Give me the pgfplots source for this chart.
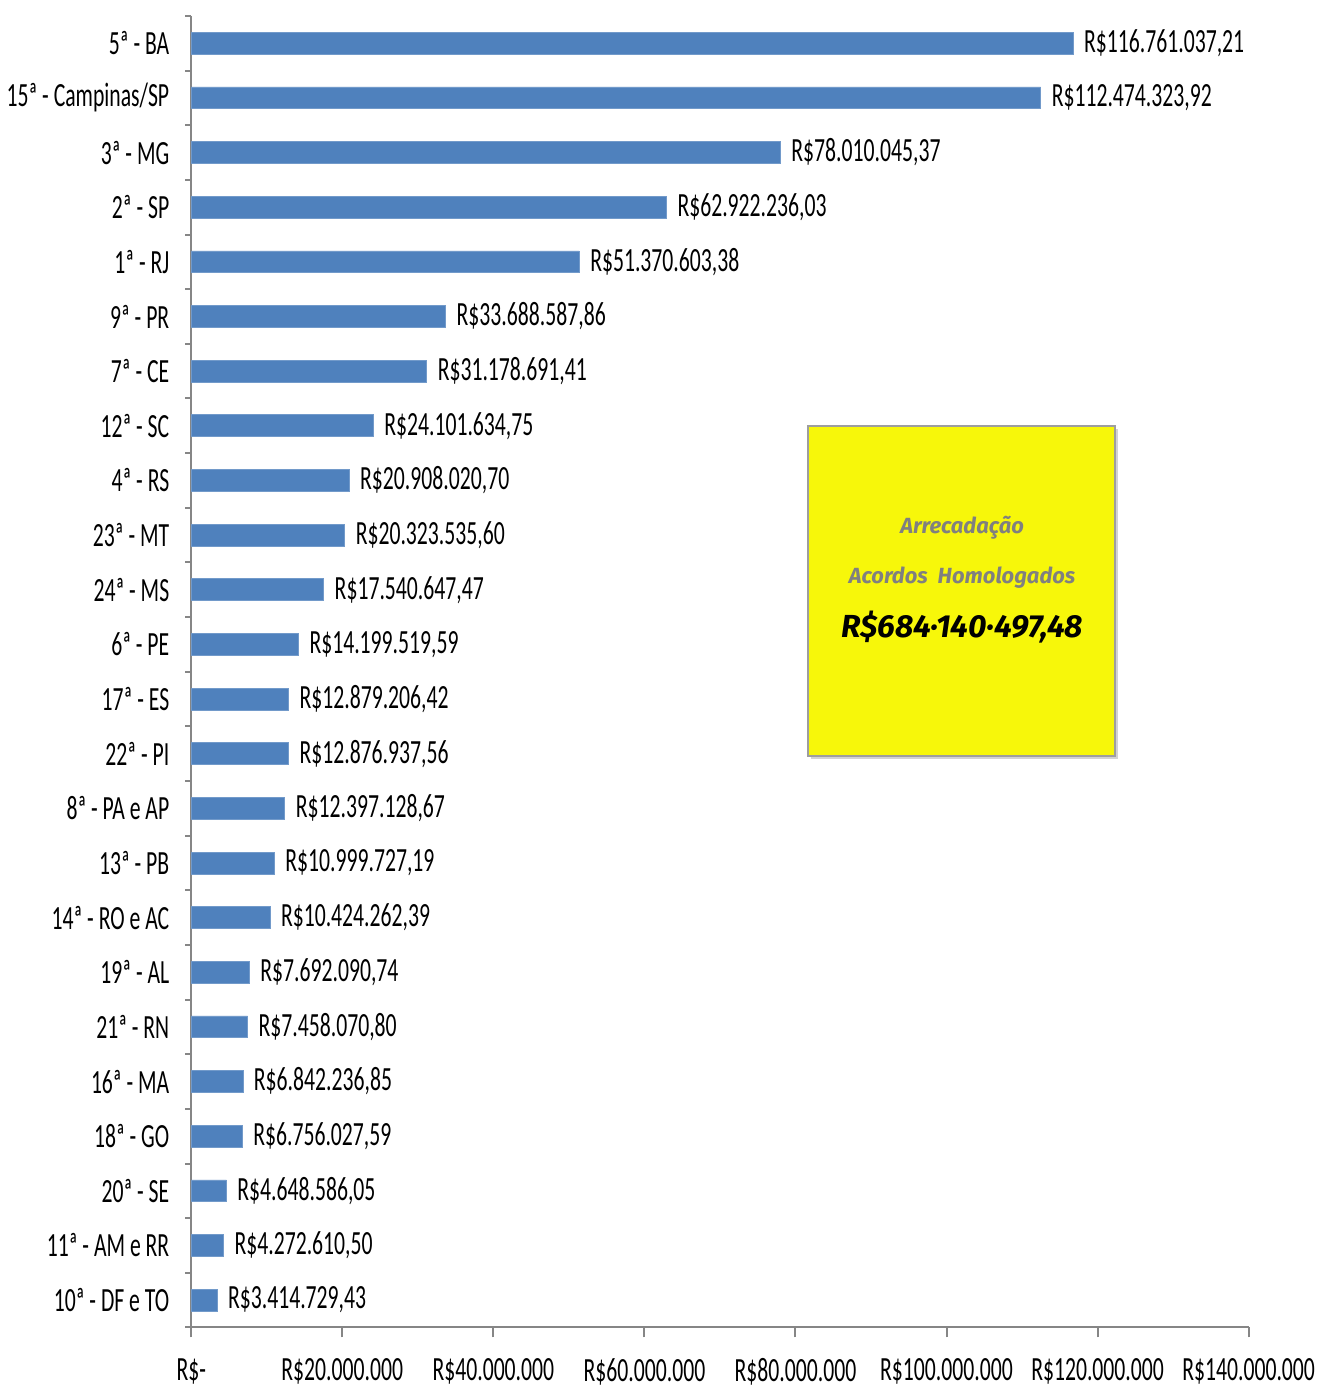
\documentclass[border=0pt]{standalone}
\usepackage{pgfplots}
\pgfplotsset{compat=1.18}
\usepackage{pgfplotstable}
\usepackage{fontspec}
\setmainfont{Carlito}[FakeStretch=0.64]
\newfontfamily\boxfont{Fira Sans}
\usetikzlibrary{shadows}
\definecolor{barblue}{RGB}{79,129,189}
\definecolor{axgray}{RGB}{134,134,134}
\definecolor{boxyellow}{RGB}{247,247,10}
\pgfplotstableread{
idx value label
0 116761037.21 R\$116.761.037,21
1 112474323.92 R\$112.474.323,92
2 78010045.37 R\$78.010.045,37
3 62922236.03 R\$62.922.236,03
4 51370603.38 R\$51.370.603,38
5 33688587.86 R\$33.688.587,86
6 31178691.41 R\$31.178.691,41
7 24101634.75 R\$24.101.634,75
8 20908020.70 R\$20.908.020,70
9 20323535.60 R\$20.323.535,60
10 17540647.47 R\$17.540.647,47
11 14199519.59 R\$14.199.519,59
12 12879206.42 R\$12.879.206,42
13 12876937.56 R\$12.876.937,56
14 12397128.67 R\$12.397.128,67
15 10999727.19 R\$10.999.727,19
16 10424262.39 R\$10.424.262,39
17 7692090.74 R\$7.692.090,74
18 7458070.80 R\$7.458.070,80
19 6842236.85 R\$6.842.236,85
20 6756027.59 R\$6.756.027,59
21 4648586.05 R\$4.648.586,05
22 4272610.50 R\$4.272.610,50
23 3414729.43 R\$3.414.729,43
}\datatable
\begin{document}
\begin{tikzpicture}
\begin{axis}[
  width=530.5pt, height=658pt, scale only axis,
  xbar, bar width=11pt,
  y dir=reverse,
  xmin=0, xmax=140000000,
  ymin=-0.5, ymax=23.5,
  axis lines*=left,
  axis line style={axgray, line width=1pt},
  ytick={0,...,23},
  yticklabels={5ª - BA,15ª - Campinas/SP,3ª - MG,2ª - SP,1ª - RJ,9ª - PR,7ª - CE,12ª - SC,4ª - RS,23ª - MT,24ª - MS,6ª - PE,17ª - ES,22ª - PI,8ª - PA e AP,13ª - PB,14ª - RO e AC,19ª - AL,21ª - RN,16ª - MA,18ª - GO,20ª - SE,11ª - AM e RR,10ª - DF e TO},
  major y tick style={draw=none},
  minor ytick={-0.5,0.5,...,23.5},
  minor y tick style={axgray, line width=1pt},
  minor tick length=3pt,
  xtick={0,20000000,40000000,60000000,80000000,100000000,120000000,140000000},
  xticklabels={R\$-,R\$20.000.000,R\$40.000.000,R\$60.000.000,R\$80.000.000,R\$100.000.000,R\$120.000.000,R\$140.000.000},
  scaled x ticks=false,
  major x tick style={axgray, line width=1pt},
  major tick length=5pt,
  tick align=outside,
  xtick pos=bottom, ytick pos=left,
  xticklabel style={yshift=-7pt, font=\fontsize{17}{17}\selectfont},
  yticklabel style={xshift=-2.5pt, font=\fontsize{17}{17}\selectfont},
  every node near coord/.style={font=\fontsize{17}{17}\selectfont, black, anchor=west, xshift=2pt},
  nodes near coords, point meta=explicit symbolic,
  clip=false,
]
\addplot[fill=barblue, draw=barblue!80!white, bar shift=0pt] table[x=value, y=idx, meta=label] {\datatable};
\fill[boxyellow, draw=axgray!80, line width=1pt, drop shadow={opacity=0.35, shadow xshift=1.5pt, shadow yshift=-1.5pt}]
  (rel axis cs:0.583,0.687) rectangle (rel axis cs:0.874,0.436);
\node[font=\boxfont\bfseries\itshape\fontsize{11}{11}\selectfont, text=gray] at (rel axis cs:0.729,0.610) {Arrecadação};
\node[font=\boxfont\bfseries\itshape\fontsize{11}{11}\selectfont, text=gray] at (rel axis cs:0.729,0.572) {Acordos\ \ Homologados};
\node[font=\boxfont\bfseries\itshape\fontsize{16}{16}\selectfont, text=black] at (rel axis cs:0.729,0.534) {R\$684·140·497,48};
\end{axis}
\draw[draw=none] (current axis.north west) -- ++(0,8pt);
\end{tikzpicture}
\end{document}
